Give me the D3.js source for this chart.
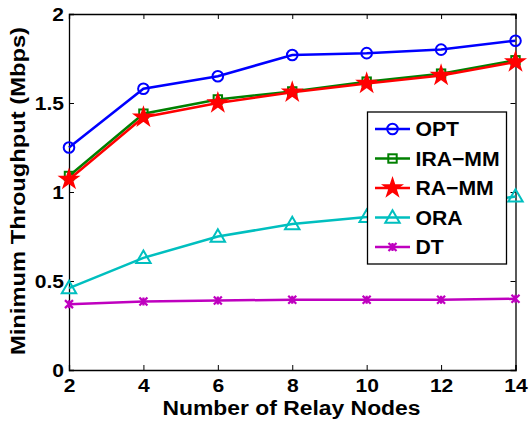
<!DOCTYPE html>
<html><head><meta charset="utf-8">
<script src="https://cdn.jsdelivr.net/npm/d3@7"></script>
<style>body{margin:0;background:#fff}svg{display:block}text{font-family:"Liberation Sans",Arial,sans-serif;font-weight:bold}</style>
</head><body>
<script>
const nodes = [2, 4, 6, 8, 10, 12, 14];
const OPT = [1.25, 1.58, 1.65, 1.77, 1.78, 1.80, 1.85];
const IRAMM = [1.09, 1.44, 1.52, 1.565, 1.62, 1.665, 1.74];
const RAMM = [1.07, 1.42, 1.50, 1.56, 1.61, 1.655, 1.73];
const ORA = [0.46, 0.63, 0.75, 0.82, 0.86, 0.91, 0.975];
const DT = [0.37, 0.385, 0.39, 0.395, 0.395, 0.395, 0.40];
const yTicks = [0, 0.5, 1, 1.5, 2];
const xTicks = [2, 4, 6, 8, 10, 12, 14];
const seriesNames = ["OPT", "IRA\u2212MM", "RA\u2212MM", "ORA", "DT"];

const series = [
  {name: seriesNames[0], values: OPT, color: "#0000ff", marker: "circle"},
  {name: seriesNames[1], values: IRAMM, color: "#008000", marker: "square"},
  {name: seriesNames[2], values: RAMM, color: "#ff0000", marker: "star"},
  {name: seriesNames[3], values: ORA, color: "#00bfbf", marker: "triangle"},
  {name: seriesNames[4], values: DT, color: "#bf00bf", marker: "x"}
];

const W = 530, H = 422;
const L = 69, R = 515.5, T = 14, B = 370;
const svg = d3.select("body").append("svg").attr("width", W).attr("height", H);
const x = d3.scaleLinear().domain([2, 14]).range([L, R]);
const y = d3.scaleLinear().domain([0, 2]).range([B, T]);

const TS = 1.17; // horizontal stretch of tick text
const gx = svg.append("g").attr("transform", `translate(0,${B})`)
  .call(d3.axisBottom(x).tickValues(xTicks).tickSize(-5).tickPadding(9).tickFormat(d3.format("d")));
const gy = svg.append("g").attr("transform", `translate(${L},0)`)
  .call(d3.axisLeft(y).tickValues(yTicks).tickSize(-5).tickPadding(5).tickFormat(d => d));
const gx2 = svg.append("g").attr("transform", `translate(0,${T})`)
  .call(d3.axisTop(x).tickValues(xTicks).tickSize(-5).tickFormat(""));
const gy2 = svg.append("g").attr("transform", `translate(${R},0)`)
  .call(d3.axisRight(y).tickValues(yTicks).tickSize(-5).tickFormat(""));
[gx, gy, gx2, gy2].forEach(g => {
  g.select(".domain").attr("stroke", "#000").attr("stroke-width", 1.3);
  g.selectAll(".tick line").attr("stroke", "#000");
  g.selectAll("text").attr("font-size", 18).attr("fill", "#000")
    .style("font-family", '"Liberation Sans",Arial,sans-serif').style("font-weight", "bold");
});
gx.selectAll(".tick text").attr("transform", `scale(${TS},1)`);
gy.selectAll(".tick text").attr("dy", "0.36em").attr("x", -5 / TS).attr("transform", `scale(${TS},1)`);

svg.append("text").attr("transform", "translate(291.5,415) scale(1.09,1)").attr("text-anchor", "middle")
  .attr("font-size", 21).text("Number of Relay Nodes");
svg.append("text").attr("transform", "translate(25,191) rotate(-90) scale(1.13,1)").attr("text-anchor", "middle")
  .attr("font-size", 21).text("Minimum Throughput (Mbps)");

const star = d3.symbol().type(d3.symbolStar).size(105);
const tri = d3.symbol().type(d3.symbolTriangle).size(90);
function drawMarker(g, type, cx, cy, color) {
  if (type === "circle") {
    g.append("circle").attr("cx", cx).attr("cy", cy).attr("r", 5.3).attr("fill", "none").attr("stroke", color).attr("stroke-width", 2);
  } else if (type === "square") {
    g.append("rect").attr("x", cx - 4.2).attr("y", cy - 4.2).attr("width", 8.4).attr("height", 8.4).attr("fill", "none").attr("stroke", color).attr("stroke-width", 2);
  } else if (type === "star") {
    g.append("path").attr("d", star).attr("transform", `translate(${cx},${cy})`).attr("fill", color).attr("stroke", color).attr("stroke-width", 1.5);
  } else if (type === "triangle") {
    g.append("path").attr("d", tri).attr("transform", `translate(${cx},${cy + 1})`).attr("fill", "none").attr("stroke", color).attr("stroke-width", 2);
  } else if (type === "x") {
    const s = 4;
    g.append("path").attr("d", `M${cx - s},${cy - s}L${cx + s},${cy + s}M${cx - s},${cy + s}L${cx + s},${cy - s}M${cx},${cy - s}L${cx},${cy + s}`)
      .attr("stroke", color).attr("stroke-width", 2.2).attr("fill", "none");
  }
}

const line = d3.line().x((d, i) => x(nodes[i])).y(d => y(d));
series.forEach(s => {
  const g = svg.append("g");
  g.append("path").attr("d", line(s.values)).attr("fill", "none").attr("stroke", s.color).attr("stroke-width", 2.5);
  s.values.forEach((v, i) => drawMarker(g, s.marker, x(nodes[i]), y(v), s.color));
});

// legend
const lg = svg.append("g");
lg.append("rect").attr("x", 367.5).attr("y", 112).attr("width", 139).attr("height", 152)
  .attr("fill", "#fff").attr("stroke", "#000").attr("stroke-width", 1.3);
series.forEach((s, i) => {
  const cy = 129 + i * 29.5;
  lg.append("line").attr("x1", 375).attr("x2", 410).attr("y1", cy).attr("y2", cy).attr("stroke", s.color).attr("stroke-width", 2.5);
  drawMarker(lg, s.marker, 392.5, cy, s.color);
  lg.append("text").attr("transform", `translate(415.5,${cy}) scale(1.06,1)`).attr("dy", "0.36em").attr("font-size", 20).text(s.name);
});
</script>
</body></html>
